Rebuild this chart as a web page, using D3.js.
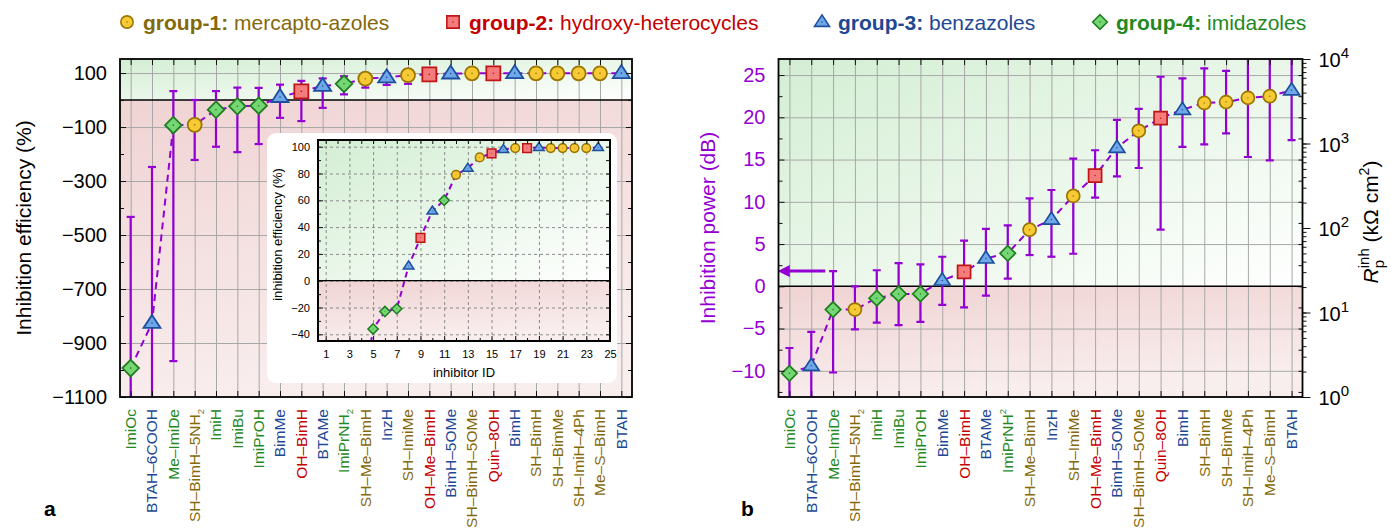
<!DOCTYPE html>
<html>
<head>
<meta charset="utf-8">
<script src="https://cdn.jsdelivr.net/npm/d3@7"></script>
<style>
  body { margin: 0; background: #fff; }
  svg { font-family: "Liberation Sans", Arial, Helvetica, sans-serif; }
</style>
</head>
<body>
<svg id="fig" width="1391" height="532"></svg>
<script>
// DATA ------------------------------------
const inhibitors = ["ImiOc", "BTAH–6COOH", "Me–ImiDe", "SH–BimH–5NH2", "ImiH", "ImiBu", "ImiPrOH",
  "BimMe", "OH–BimH", "BTAMe", "ImiPrNH2", "SH–Me–BimH", "InzH", "SH–ImiMe", "OH–Me–BimH",
  "BimH–5OMe", "SH–BimH–5OMe", "Quin–8OH", "BimH", "SH–BimH", "SH–BimMe", "SH–ImiH–4Ph",
  "Me–S–BimH", "BTAH"];
// 1 mercapto-azoles, 2 hydroxy-heterocycles, 3 benzazoles, 4 imidazoles
const groups = [4, 3, 4, 1, 4, 4, 4, 3, 2, 3, 4, 1, 3, 1, 2, 3, 1, 2, 3, 1, 1, 1, 1, 3];

// inhibition efficiency (%)
const effValue = [-993, -826, -93, -92, -36, -23, -21, 11, 32, 52, 60, 79, 84, 92, 95, 98, 99, 99, 99.5, 99, 99, 99, 99, 99.5];
const effHigh = [-433, -248, 33, 0, 33, 46, 45, 57, 71, 80, 88, 96, 98, 99.5, 99.5, 99.8, 99.8, 99.8, 99.8, 99.8, 99.8, 99.8, 99.8, 99.8];
const effLow = [-1500, -1500, -967, -222, -173, -193, -163, -66, -78, -29, 21, 46, 56, 60, 88, 94, 97, 97, 98, 97, 97, 97, 97, 98];

// inhibition power (dB)
const powerValue = [-10.3, -9.4, -2.75, -2.75, -1.4, -0.9, -0.9, 0.7, 1.7, 3.3, 3.9, 6.7, 7.9, 10.7, 13.1, 16.4, 18.4, 19.9, 20.9, 21.7, 21.8, 22.3, 22.5, 23.2];
const powerHigh = [-7.3, -5.4, 1.8, 0.0, 1.9, 2.75, 2.6, 3.5, 5.4, 6.8, 7.2, 10.4, 11.4, 15.1, 16.1, 19.7, 21.0, 24.8, 24.6, 25.8, 25.5, 30, 30, 30];
const powerLow = [-15, -15, -10.2, -5.1, -4.3, -4.6, -4.2, -2.2, -2.5, -1.1, 0.9, 3.7, 3.5, 3.85, 10.5, 13.0, 14.0, 6.7, 16.5, 16.8, 18.1, 15.3, 14.9, 17.3];

const effTicks = [100, -100, -300, -500, -700, -900, -1100];
const effMinor = [0, -200, -400, -600, -800, -1000];
const powerTicks = [-10, -5, 0, 5, 10, 15, 20, 25];
const powerMinor = [-12.5, -7.5, -2.5, 2.5, 7.5, 12.5, 17.5, 22.5];
const rpTicks = [1, 10, 100, 1000, 10000];
const insetYTicks = [-40, -20, 0, 20, 40, 60, 80, 100];
const insetYMinor = [-30, -10, 10, 30, 50, 70, 90];
const insetXTicks = [1, 3, 5, 7, 9, 11, 13, 15, 17, 19, 21, 23, 25];
const insetXMinor = [2, 4, 6, 8, 10, 12, 14, 16, 18, 20, 22, 24];
const groupNames = ["group-1:", "group-2:", "group-3:", "group-4:"];
const groupDesc = ["mercapto-azoles", "hydroxy-heterocycles", "benzazoles", "imidazoles"];
const superLabelsB = ["ImiPrNH2"];   // panel b prints this one with a superscript

// STYLE -----------------------------------
const purple = "#9400d3";
const groupFill = ["#f6c935", "#f57c7c", "#6ea8e8", "#74d774"];
const groupStroke = ["#9a7600", "#c01515", "#1d4f9d", "#217d21"];
const groupText = ["#84690a", "#c40000", "#1d4894", "#23891f"];

const svg = d3.select("#fig");
const defs = svg.append("defs");

function gradient(id, c0, c1, x2, y2) {
  const g = defs.append("linearGradient").attr("id", id)
    .attr("x1", 0).attr("y1", 0).attr("x2", x2).attr("y2", y2);
  g.append("stop").attr("offset", 0).attr("stop-color", c0);
  g.append("stop").attr("offset", 1).attr("stop-color", c1);
}
gradient("gGreen", "#d3eed3", "#ffffff", 1, 1);
gradient("gRed", "#f0d3d3", "#f9eeee", 0.3, 1);

defs.append("marker").attr("id", "arrowHead")
  .attr("viewBox", "0 0 10 10").attr("refX", 2).attr("refY", 5)
  .attr("markerWidth", 4).attr("markerHeight", 4).attr("orient", "auto")
  .append("path").attr("d", "M0,0L10,5L0,10Z").attr("fill", purple);

function markerPath(gr, s) {
  if (gr === 1) return d3.symbol(d3.symbolCircle, Math.PI * (7 * s) ** 2)();
  if (gr === 2) { const a = 7 * s; return `M${-a},${-a}h${2 * a}v${2 * a}h${-2 * a}Z`; }
  if (gr === 3) { const w = 8.5 * s, h = 13 * s; return `M0,${-h * 0.62}L${w},${h * 0.38}L${-w},${h * 0.38}Z`; }
  const d = 8.3 * s; return `M0,${-d}L${d},0L0,${d}L${-d},0Z`;
}

function drawMarkers(g, xs, ys, s, strokeW) {
  const m = g.selectAll("g.mk").data(groups).join("g").attr("class", "mk")
    .attr("transform", (d, i) => `translate(${xs(i)},${ys(i)})`);
  m.append("path").attr("d", d => markerPath(d, s))
    .attr("fill", d => groupFill[d - 1]).attr("stroke", d => groupStroke[d - 1])
    .attr("stroke-width", strokeW);
  m.append("circle").attr("r", 0.8 * s).attr("fill", d => groupStroke[d - 1]);
}

function drawErrors(g, xs, ys, lo, hi) {
  const e = g.selectAll("g.err").data(groups).join("g").attr("class", "err")
    .attr("stroke", purple).attr("stroke-width", 2.2);
  e.append("line").attr("x1", (d, i) => xs(i)).attr("x2", (d, i) => xs(i))
    .attr("y1", (d, i) => ys(lo[i])).attr("y2", (d, i) => ys(hi[i]));
  [lo, hi].forEach(arr => {
    e.append("line").attr("x1", (d, i) => xs(i) - 4).attr("x2", (d, i) => xs(i) + 4)
      .attr("y1", (d, i) => ys(arr[i])).attr("y2", (d, i) => ys(arr[i]));
  });
}

function backgrounds(g, p, y0) {
  g.append("rect").attr("x", p.x0).attr("y", p.y0).attr("width", p.x1 - p.x0).attr("height", y0 - p.y0)
    .attr("fill", "url(#gGreen)");
  g.append("rect").attr("x", p.x0).attr("y", y0).attr("width", p.x1 - p.x0).attr("height", p.y1 - y0)
    .attr("fill", "url(#gRed)");
}

function clip(id, p) {
  defs.append("clipPath").attr("id", id).append("rect")
    .attr("x", p.x0).attr("y", p.y0).attr("width", p.x1 - p.x0).attr("height", p.y1 - p.y0);
}

function styleAxis(sel, color, size) {
  sel.select(".domain").remove();
  sel.selectAll(".tick line").attr("stroke", "#111").attr("stroke-width", 1);
  sel.selectAll(".tick text").attr("fill", color).attr("font-size", size)
    .attr("font-family", '"Liberation Sans", Arial, sans-serif');
}

function gridLines(g, p, xs, n, ys, yvals, dash, color) {
  g.append("g").attr("transform", `translate(0,${p.y1})`)
    .call(d3.axisBottom(xs).tickValues(n).tickSize(-(p.y1 - p.y0)).tickFormat(""))
    .call(s => { s.select(".domain").remove(); s.selectAll("line").attr("stroke", color).attr("stroke-dasharray", dash); });
  g.append("g").attr("transform", `translate(${p.x0},0)`)
    .call(d3.axisLeft(ys).tickValues(yvals).tickSize(-(p.x1 - p.x0)).tickFormat(""))
    .call(s => { s.select(".domain").remove(); s.selectAll("line").attr("stroke", color).attr("stroke-dasharray", dash); });
}

function writeLabel(text, name, sup) {
  const m = /^(.*NH)2$/.exec(name);
  if (!m) { text.text(name); return; }
  text.text(m[1]);
  text.append("tspan").attr("font-size", "0.62em").attr("dy", sup ? -7 : 4).text("2");
}

const minus = d => d < 0 ? "\u2212" + Math.abs(d) : String(d);
const idx = d3.range(inhibitors.length);

// PANEL A ---------------------------------
const A = { x0: 120, x1: 632, y0: 59, y1: 397 };
const xA = d3.scalePoint().domain(idx).range([A.x0, A.x1]).padding(0.5);
const yA = d3.scaleLinear().domain([-1100, 152]).range([A.y1, A.y0]);
const gA = svg.append("g");
clip("clipA", A);

backgrounds(gA, A, yA(0));
gridLines(gA, A, xA, idx, yA, effTicks.slice(0, -1), null, "#a8a8a8");
gA.append("line").attr("x1", A.x0).attr("x2", A.x1).attr("y1", yA(0)).attr("y2", yA(0))
  .attr("stroke", "#000").attr("stroke-width", 1.4);

const dataA = gA.append("g").attr("clip-path", "url(#clipA)");
drawErrors(dataA, i => xA(i), yA, effLow, effHigh);
dataA.append("path").datum(idx)
  .attr("d", d3.line().x(i => xA(i)).y(i => yA(effValue[i])))
  .attr("fill", "none").attr("stroke", purple).attr("stroke-width", 2).attr("stroke-dasharray", "7,5");
drawMarkers(dataA, i => xA(i), i => yA(effValue[i]), 1, 1.8);

// axes of A
gA.append("g").attr("transform", `translate(${A.x0},0)`)
  .call(d3.axisLeft(yA).tickValues(effTicks).tickSize(-6).tickPadding(13).tickFormat(minus))
  .call(s => styleAxis(s, "#000", 20));
gA.append("g").attr("transform", `translate(${A.x0},0)`)
  .call(d3.axisLeft(yA).tickValues(effMinor).tickSize(-4).tickFormat(""))
  .call(s => styleAxis(s, "#000", 20));
gA.append("g").attr("transform", `translate(${A.x1},0)`)
  .call(d3.axisRight(yA).tickValues(effTicks).tickSize(-6).tickFormat(""))
  .call(s => styleAxis(s, "#000", 20));
gA.append("g").attr("transform", `translate(${A.x1},0)`)
  .call(d3.axisRight(yA).tickValues(effMinor).tickSize(-4).tickFormat(""))
  .call(s => styleAxis(s, "#000", 20));
gA.append("g").attr("transform", `translate(0,${A.y0})`)
  .call(d3.axisTop(xA).tickSize(-6).tickFormat(""))
  .call(s => styleAxis(s, "#000", 20));
gA.append("g").attr("transform", `translate(0,${A.y1})`)
  .call(d3.axisBottom(xA).tickSize(-6).tickFormat(""))
  .call(s => styleAxis(s, "#000", 20));

gA.selectAll("text.labA").data(idx).join("text").attr("class", "labA")
  .attr("transform", i => `translate(${xA(i)},${A.y1 + 12}) rotate(-90)`)
  .attr("text-anchor", "end").attr("dy", "0.35em").attr("font-size", 15.5)
  .attr("fill", i => groupText[groups[i] - 1])
  .each(function (i) { writeLabel(d3.select(this), inhibitors[i], false); });

gA.append("text").attr("transform", `translate(31,${(A.y0 + A.y1) / 2}) rotate(-90)`)
  .attr("text-anchor", "middle").attr("font-size", 21).text("Inhibition efficiency (%)");

// INSET -----------------------------------
const gC = svg.append("g");
gC.append("rect").attr("x", 267).attr("y", 133).attr("width", 350).attr("height", 250)
  .attr("rx", 9).attr("fill", "#fff");
const C = { x0: 318, x1: 610, y0: 140, y1: 341 };
const xC = d3.scaleLinear().domain([0.35, 25]).range([C.x0, C.x1]);
const yC = d3.scaleLinear().domain([-45, 105]).range([C.y1, C.y0]);
clip("clipC", C);
backgrounds(gC, C, yC(0));
gridLines(gC, C, xC, insetXTicks, yC, insetYTicks, "3,3", "#8a8a8a");
gC.append("line").attr("x1", C.x0).attr("x2", C.x1).attr("y1", yC(0)).attr("y2", yC(0))
  .attr("stroke", "#000").attr("stroke-width", 1.3);

const dataC = gC.append("g").attr("clip-path", "url(#clipC)");
dataC.append("path").datum(idx)
  .attr("d", d3.line().x(i => xC(i + 1)).y(i => yC(effValue[i])))
  .attr("fill", "none").attr("stroke", purple).attr("stroke-width", 2).attr("stroke-dasharray", "6,4");
drawMarkers(dataC, i => xC(i + 1), i => yC(effValue[i]), 0.62, 1.5);

gC.append("g").attr("transform", `translate(${C.x0},0)`)
  .call(d3.axisLeft(yC).tickValues(insetYTicks).tickSize(-5).tickPadding(8))
  .call(s => styleAxis(s, "#000", 11));
gC.append("g").attr("transform", `translate(${C.x0},0)`)
  .call(d3.axisLeft(yC).tickValues(insetYMinor).tickSize(-3).tickFormat(""))
  .call(s => styleAxis(s, "#000", 11));
gC.append("g").attr("transform", `translate(${C.x1},0)`)
  .call(d3.axisRight(yC).tickValues(insetYTicks.concat(insetYMinor)).tickSize(-4).tickFormat(""))
  .call(s => styleAxis(s, "#000", 11));
gC.append("g").attr("transform", `translate(0,${C.y1})`)
  .call(d3.axisBottom(xC).tickValues(insetXTicks).tickSize(-5).tickPadding(9))
  .call(s => styleAxis(s, "#000", 11));
gC.append("g").attr("transform", `translate(0,${C.y1})`)
  .call(d3.axisBottom(xC).tickValues(insetXMinor).tickSize(-3).tickFormat(""))
  .call(s => styleAxis(s, "#000", 11));
gC.append("g").attr("transform", `translate(0,${C.y0})`)
  .call(d3.axisTop(xC).tickValues(insetXTicks.concat(insetXMinor)).tickSize(-4).tickFormat(""))
  .call(s => styleAxis(s, "#000", 11));
gC.append("rect").attr("x", C.x0).attr("y", C.y0).attr("width", C.x1 - C.x0).attr("height", C.y1 - C.y0)
  .attr("fill", "none").attr("stroke", "#000").attr("stroke-width", 2);
gC.append("text").attr("transform", `translate(282,${(C.y0 + C.y1) / 2 - 6}) rotate(-90)`)
  .attr("text-anchor", "middle").attr("font-size", 13).text("inhibition efficiency (%)");
gC.append("text").attr("x", (C.x0 + C.x1) / 2).attr("y", 377)
  .attr("text-anchor", "middle").attr("font-size", 13).text("inhibitor ID");

svg.append("rect").attr("x", A.x0).attr("y", A.y0).attr("width", A.x1 - A.x0).attr("height", A.y1 - A.y0)
  .attr("fill", "none").attr("stroke", "#000").attr("stroke-width", 1.8);

// PANEL B ---------------------------------
const B = { x0: 778.5, x1: 1302.5, y0: 59, y1: 397 };
const xB = d3.scalePoint().domain(idx).range([B.x0, B.x1]).padding(0.5);
const yB = d3.scaleLinear().domain([-13.1, 26.9]).range([B.y1, B.y0]);
const yR = d3.scaleLog().domain([1, 1e4]).range([B.y1, B.y0]);
const gB = svg.append("g");
clip("clipB", B);

backgrounds(gB, B, yB(0));
gridLines(gB, B, xB, idx, yB, powerTicks.filter(d => d !== 0), null, "#a8a8a8");
gB.append("line").attr("x1", B.x0).attr("x2", B.x1).attr("y1", yB(0)).attr("y2", yB(0))
  .attr("stroke", "#000").attr("stroke-width", 1.4);

const dataB = gB.append("g").attr("clip-path", "url(#clipB)");
drawErrors(dataB, i => xB(i), yB, powerLow, powerHigh);
dataB.append("path").datum(idx)
  .attr("d", d3.line().x(i => xB(i)).y(i => yB(powerValue[i])))
  .attr("fill", "none").attr("stroke", purple).attr("stroke-width", 2).attr("stroke-dasharray", "7,5");
drawMarkers(dataB, i => xB(i), i => yB(powerValue[i]), 0.93, 1.7);

// arrow pointing to the left axis
gB.append("line").attr("x1", xB(1) + 14).attr("x2", xB(0) - 2)
  .attr("y1", yB(1.8)).attr("y2", yB(1.8))
  .attr("stroke", purple).attr("stroke-width", 3).attr("marker-end", "url(#arrowHead)");

gB.append("g").attr("transform", `translate(${B.x0},0)`)
  .call(d3.axisLeft(yB).tickValues(powerTicks).tickSize(-6).tickPadding(13).tickFormat(minus))
  .call(s => styleAxis(s, purple, 20));
gB.append("g").attr("transform", `translate(${B.x0},0)`)
  .call(d3.axisLeft(yB).tickValues(powerMinor).tickSize(-4).tickFormat(""))
  .call(s => styleAxis(s, purple, 20));
gB.append("g").attr("transform", `translate(${B.x1},0)`)
  .call(d3.axisRight(yB).tickValues(powerTicks.concat(powerMinor)).tickSize(-4).tickFormat(""))
  .call(s => styleAxis(s, "#000", 20));
gB.append("g").attr("transform", `translate(0,${B.y0})`)
  .call(d3.axisTop(xB).tickSize(-6).tickFormat(""))
  .call(s => styleAxis(s, "#000", 20));
gB.append("g").attr("transform", `translate(0,${B.y1})`)
  .call(d3.axisBottom(xB).tickSize(-6).tickFormat(""))
  .call(s => styleAxis(s, "#000", 20));

// log axis on the right
gB.append("g").attr("transform", `translate(${B.x1},0)`)
  .call(d3.axisRight(yR).tickValues(yR.ticks()).tickSize(4).tickFormat(""))
  .call(s => styleAxis(s, "#000", 20));
const rMajor = gB.append("g").attr("transform", `translate(${B.x1},0)`)
  .call(d3.axisRight(yR).tickValues(rpTicks).tickSize(8).tickPadding(8).tickFormat(""))
  .call(s => styleAxis(s, "#000", 20));
rMajor.selectAll(".tick").append("text")
  .attr("x", 16).attr("dy", "0.38em").attr("font-size", 20).attr("fill", "#000")
  .text("10")
  .append("tspan").attr("font-size", 15).attr("dy", -9).text(d => Math.round(Math.log10(d)));

gB.selectAll("text.labB").data(idx).join("text").attr("class", "labB")
  .attr("transform", i => `translate(${xB(i)},${B.y1 + 12}) rotate(-90)`)
  .attr("text-anchor", "end").attr("dy", "0.35em").attr("font-size", 15.5)
  .attr("fill", i => groupText[groups[i] - 1])
  .each(function (i) { writeLabel(d3.select(this), inhibitors[i], superLabelsB.includes(inhibitors[i])); });

gB.append("text").attr("transform", `translate(715,${(B.y0 + B.y1) / 2}) rotate(-90)`)
  .attr("text-anchor", "middle").attr("font-size", 21).attr("fill", purple).text("Inhibition power (dB)");

const rt = gB.append("text").attr("transform", `translate(1378,222) rotate(-90)`).attr("font-size", 21);
rt.append("tspan").attr("font-style", "italic").text("R");
const inh = rt.append("tspan").attr("font-size", 15).attr("dy", -9).text("inh");
const wInh = inh.node().getComputedTextLength();
const pT = rt.append("tspan").attr("font-size", 15).attr("dx", -wInh).attr("dy", 15).text("p");
const wP = pT.node().getComputedTextLength();
rt.append("tspan").attr("dx", wInh - wP).attr("dy", -6).text(" (kΩ cm");
rt.append("tspan").attr("font-size", 14).attr("dy", -9).text("2");
rt.append("tspan").attr("dy", 9).text(")");
rt.attr("x", -rt.node().getBBox().width / 2);

gB.append("rect").attr("x", B.x0).attr("y", B.y0).attr("width", B.x1 - B.x0).attr("height", B.y1 - B.y0)
  .attr("fill", "none").attr("stroke", "#000").attr("stroke-width", 1.8);

// LEGEND ----------------------------------
const legendX = [127, 453, 822, 1100];
const lg = svg.append("g").selectAll("g").data(groupNames).join("g")
  .attr("transform", (d, i) => `translate(${legendX[i]},22)`);
lg.append("path").attr("d", (d, i) => markerPath(i + 1, 0.88))
  .attr("fill", (d, i) => groupFill[i]).attr("stroke", (d, i) => groupStroke[i]).attr("stroke-width", 1.6);
lg.append("circle").attr("r", 0.8).attr("fill", (d, i) => groupStroke[i]);
const lt = lg.append("text").attr("x", 16).attr("dy", "0.36em").attr("font-size", 21)
  .attr("fill", (d, i) => groupText[i]);
lt.append("tspan").attr("font-weight", "bold").text(d => d);
lt.append("tspan").text((d, i) => " " + groupDesc[i]);

// panel letters
svg.append("text").attr("x", 44).attr("y", 516).attr("font-size", 21).attr("font-weight", "bold").text("a");
svg.append("text").attr("x", 741).attr("y", 516).attr("font-size", 21).attr("font-weight", "bold").text("b");
</script>
</body>
</html>
